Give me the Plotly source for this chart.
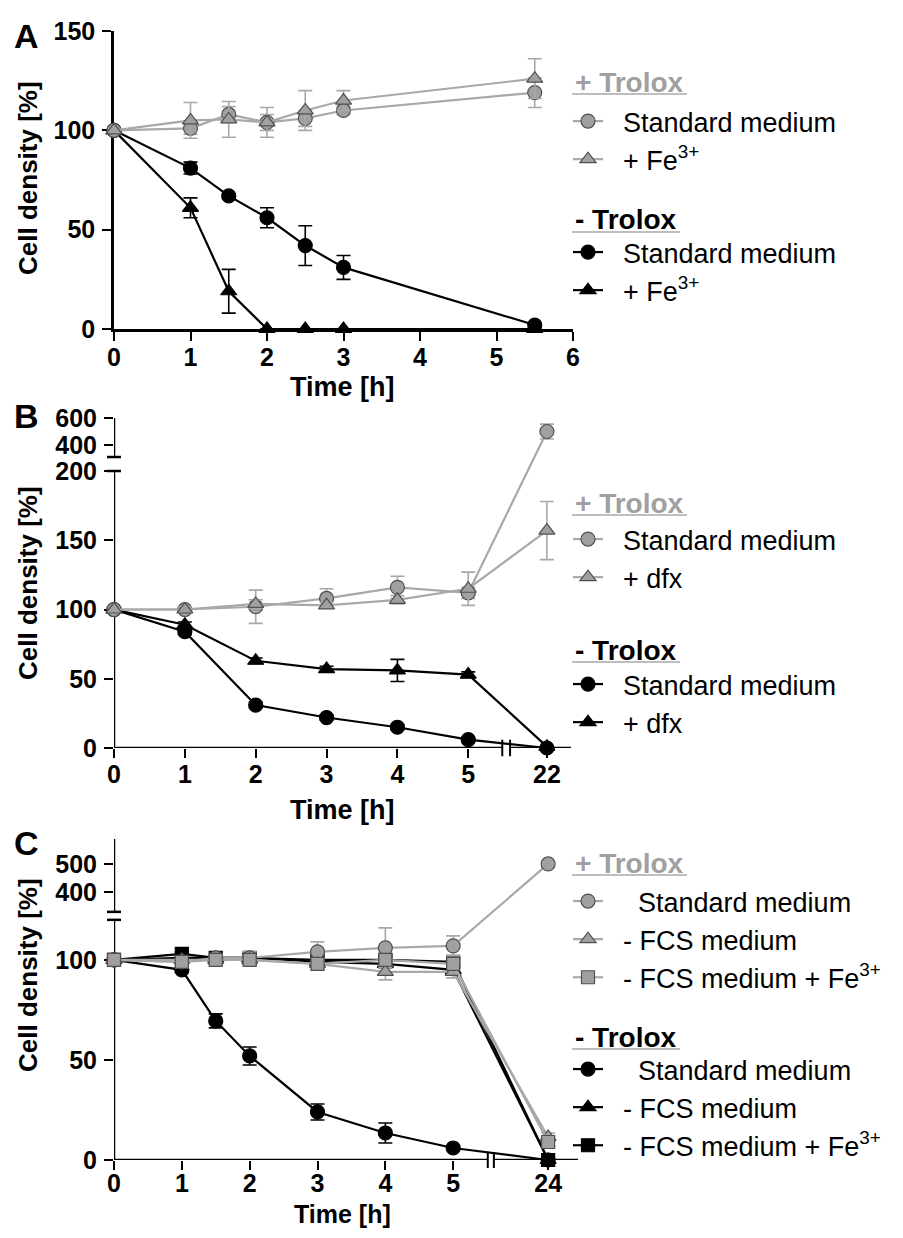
import plotly.graph_objects as go

# page body has an 8px margin: figure is placed at (8, 8) in the window
OX, OY = 8, 8
W, H = 887, 1222
FONT = "Liberation Sans, Arial, Helvetica, sans-serif"
GRAY_LINE = "#A8A8A8"
GRAY_FILL = "#A0A0A0"
GRAY_EDGE = "#505050"
BLACK = "#000000"

# ---------------- data ----------------
# Panel A
A_time = [0, 1, 1.5, 2, 2.5, 3, 5.5]
A_plus_std = [100, 101, 108, 104, 106, 110, 119]
A_plus_std_err = [0, 3, 4, 4, 4, 2, 7.5]
A_plus_fe = [100, 105, 105.5, 104, 110, 115, 126]
A_plus_fe_err = [0, 9, 9, 7.5, 10, 5, 10]
A_minus_std = [100, 81, 67, 56, 42, 31, 2]
A_minus_std_err = [0, 3, 1, 5, 10, 6, 1]
A_minus_fe = [100, 61, 19, 0, 0, 0, 0]
A_minus_fe_err = [0, 5, 11, 0, 0, 0, 0]
A_xticks = [0, 1, 2, 3, 4, 5, 6]
A_yticks = [0, 50, 100, 150]

# Panel B
B_time = [0, 1, 2, 3, 4, 5, 22]
B_plus_std = [100, 100, 102, 108, 116, 112, 500]
B_plus_std_err = [0, 2, 12, 7, 8, 4, 55]
B_plus_dfx = [100, 100, 104, 103, 107, 115, 157]
B_plus_dfx_err = [0, 2, 3, 2, 3, 12, 21]
B_minus_std = [100, 84, 31, 22, 15, 6, 0]
B_minus_std_err = [0, 2, 2, 2, 2, 1, 0]
B_minus_dfx = [100, 89, 63, 57, 56, 53, 1]
B_minus_dfx_err = [0, 2, 2, 2, 8, 2, 0]
B_xticks = [0, 1, 2, 3, 4, 5, 22]
B_yticks = [0, 50, 100, 150, 200, 400, 600]

# Panel C
C_time = [0, 1, 1.5, 2, 3, 4, 5, 24]
C_plus_std = [100, 99, 101, 101, 104, 106, 107, 500]
C_plus_std_err = [0, 2, 2, 3, 5, 10, 5, 0]
C_plus_fcs = [100, 100, 100, 100, 98, 94, 94, 11.5]
C_plus_fcs_err = [0, 2, 2, 2, 3, 4, 3, 2]
C_plus_fcsfe = [100, 99, 100, 100, 98, 100, 98, 9]
C_plus_fcsfe_err = [0, 2, 2, 2, 2, 3, 3, 2]
C_minus_std = [100, 95, 69.5, 52, 24, 13.5, 6, 0]
C_minus_std_err = [0, 1, 3.5, 4.5, 4, 5, 1, 0]
C_minus_fcs = [100, 101, 101, 101, 99, 98, 95, 0]
C_minus_fcs_err = [0, 1, 1, 2, 2, 2, 2, 0]
C_minus_fcsfe = [100, 103, 101, 101, 100, 100, 99, 0]
C_minus_fcsfe_err = [0, 1, 1, 2, 2, 2, 2, 0]
C_xticks = [0, 1, 2, 3, 4, 5, 24]
C_yticks = [0, 50, 100, 400, 500]

# ---------------- axis-break scales ----------------
B_LOW_TOP, B_GAP, B_UP_LO, B_UP_HI, B_UP_RATIO = 200, 10.1, 311, 600, 0.0975
C_LOW_TOP, C_GAP, C_UP_LO, C_UP_HI, C_UP_RATIO = 120, 4.0, 329, 589, 0.14
B_XLAST, B_XMAX, B_XBREAK = 6.11, 6.45, (5.48, 5.59)
C_XLAST, C_XMAX, C_XBREAK = 6.40, 6.84, (5.51, 5.60)


def ybreak(v, low_top, gap, up_lo, ratio):
    if v <= low_top:
        return v
    return low_top + gap + (v - up_lo) * ratio


def yB(v):
    return ybreak(v, B_LOW_TOP, B_GAP, B_UP_LO, B_UP_RATIO)


def yC(v):
    return ybreak(v, C_LOW_TOP, C_GAP, C_UP_LO, C_UP_RATIO)


def xcomp(t, last):
    return t if t <= 5 else last


def px(x):
    return (x - OX) / W


def py(y):
    return 1 - (y - OY) / H


def dom_x(l, r):
    return [px(l), px(r)]


def dom_y(top, bottom):
    return [py(bottom), py(top)]


fig = go.Figure()


def add_series(xs, ys, errs, xa, ya, name, legend, symbol, gray, yf=None, xf=None):
    yf = yf or (lambda v: v)
    xf = xf or (lambda t: t)
    yy = [yf(v) for v in ys]
    up = [yf(v + e) - yf(v) for v, e in zip(ys, errs)]
    dn = [yf(v) - yf(v - e) for v, e in zip(ys, errs)]
    col_line = GRAY_LINE if gray else BLACK
    fig.add_trace(go.Scatter(
        x=[xf(t) for t in xs], y=yy, xaxis=xa, yaxis=ya, name=name, legend=legend,
        mode="lines+markers", cliponaxis=False,
        line=dict(color=col_line, width=2.2),
        marker=dict(symbol=symbol, size=14 if symbol != "square" else 13,
                    color=GRAY_FILL if gray else BLACK,
                    line=dict(color=GRAY_EDGE if gray else BLACK, width=1.2)),
        error_y=dict(type="data", symmetric=False, array=up, arrayminus=dn,
                     color=GRAY_LINE if gray else BLACK, thickness=1.6, width=7),
        hoverinfo="x+y+name",
    ))


S2 = "\u00a0\u00a0"
S4 = "\u00a0\u00a0\u00a0\u00a0"
FE = S2 + "+ Fe<sup>3+</sup>"
SM = S2 + "Standard medium"

# Panel A (black first so gray sits on top)
add_series(A_time, A_minus_std, A_minus_std_err, "x", "y", SM, "legend2", "circle", False)
add_series(A_time, A_minus_fe, A_minus_fe_err, "x", "y", FE, "legend2", "triangle-up", False)
add_series(A_time, A_plus_std, A_plus_std_err, "x", "y", SM, "legend", "circle", True)
add_series(A_time, A_plus_fe, A_plus_fe_err, "x", "y", FE, "legend", "triangle-up", True)

# Panel B
fxB = lambda t: xcomp(t, B_XLAST)
add_series(B_time, B_minus_std, B_minus_std_err, "x2", "y2", SM, "legend4", "circle", False, yB, fxB)
add_series(B_time, B_minus_dfx, B_minus_dfx_err, "x2", "y2", S2 + "+ dfx", "legend4", "triangle-up", False, yB, fxB)
add_series(B_time, B_plus_std, B_plus_std_err, "x2", "y2", SM, "legend3", "circle", True, yB, fxB)
add_series(B_time, B_plus_dfx, B_plus_dfx_err, "x2", "y2", S2 + "+ dfx", "legend3", "triangle-up", True, yB, fxB)

# Panel C
fxC = lambda t: xcomp(t, C_XLAST)
SMC = S4 + "Standard medium"
FCS = S2 + "- FCS medium"
FCSFE = S2 + "- FCS medium + Fe<sup>3+</sup>"
add_series(C_time, C_minus_std, C_minus_std_err, "x3", "y3", SMC, "legend6", "circle", False, yC, fxC)
add_series(C_time, C_minus_fcs, C_minus_fcs_err, "x3", "y3", FCS, "legend6", "triangle-up", False, yC, fxC)
add_series(C_time, C_minus_fcsfe, C_minus_fcsfe_err, "x3", "y3", FCSFE, "legend6", "square", False, yC, fxC)
add_series(C_time, C_plus_std, C_plus_std_err, "x3", "y3", SMC, "legend5", "circle", True, yC, fxC)
add_series(C_time, C_plus_fcs, C_plus_fcs_err, "x3", "y3", FCS, "legend5", "triangle-up", True, yC, fxC)
add_series(C_time, C_plus_fcsfe, C_plus_fcsfe_err, "x3", "y3", FCSFE, "legend5", "square", True, yC, fxC)

tickfont = dict(family=FONT, size=25, color="black", weight="bold")
common = dict(ticks="outside", ticklen=9, tickwidth=2.2, tickcolor="black",
              showgrid=False, zeroline=False, tickfont=tickfont, layer="below traces",
              fixedrange=True, automargin=False)
xcommon = dict(common, ticklabelstandoff=-5)
xcommonC = dict(common, ticklabelstandoff=-8)
ycommon = dict(common, ticklabelstandoff=2)

layout = dict(
    width=W, height=H, margin=dict(l=0, r=0, t=0, b=0, pad=0, autoexpand=False),
    paper_bgcolor="white", plot_bgcolor="white",
    font=dict(family=FONT, color="black"),
    xaxis=dict(domain=dom_x(114, 573), range=[0, 6], anchor="y", tickvals=A_xticks,
               showline=True, linewidth=2.5, linecolor="black", **xcommon),
    yaxis=dict(domain=dom_y(31, 329), range=[0, 150], anchor="x", tickvals=A_yticks,
               showline=True, linewidth=2.5, linecolor="black", **ycommon),
    xaxis2=dict(domain=dom_x(114, 571), range=[0, B_XMAX], anchor="y2",
                tickvals=[fxB(t) for t in B_xticks], ticktext=[str(t) for t in B_xticks],
                showline=False, **xcommon),
    yaxis2=dict(domain=dom_y(418, 748), range=[0, yB(B_UP_HI)], anchor="x2",
                tickvals=[yB(v) for v in B_yticks], ticktext=[str(v) for v in B_yticks],
                showline=False, **ycommon),
    xaxis3=dict(domain=dom_x(114, 578), range=[0, C_XMAX], anchor="y3",
                tickvals=[fxC(t) for t in C_xticks], ticktext=[str(t) for t in C_xticks],
                showline=False, **xcommonC),
    yaxis3=dict(domain=dom_y(839, 1160), range=[0, yC(C_UP_HI)], anchor="x3",
                tickvals=[yC(v) for v in C_yticks], ticktext=[str(v) for v in C_yticks],
                showline=False, **ycommon),
)

legfont = dict(family=FONT, size=27, color="black")
LEG_X = px(568)
leg_tops = {"legend": 122, "legend2": 253, "legend3": 540, "legend4": 685,
            "legend5": 902, "legend6": 1070}
for key, c in leg_tops.items():
    layout[key] = dict(x=LEG_X, y=py(c - 25), xanchor="left", yanchor="top",
                       font=legfont, bgcolor="rgba(0,0,0,0)", borderwidth=0,
                       tracegroupgap=0, traceorder="normal",
                       itemclick=False, itemdoubleclick=False)

fig.update_layout(**layout)

shapes = []
# Broken axis lines for panels B and C
for xa, ya, yf, low_top, up_lo, up_hi, xbrk, xmax, dwidth in [
    ("x2", "y2", yB, B_LOW_TOP, B_UP_LO, B_UP_HI, B_XBREAK, B_XMAX, 457),
    ("x3", "y3", yC, C_LOW_TOP, C_UP_LO, C_UP_HI, C_XBREAK, C_XMAX, 464),
]:
    lw = dict(color="black", width=2.5)
    shapes.append(dict(type="line", xref=xa, yref=ya, x0=0, x1=0, y0=0, y1=yf(low_top), line=lw, layer="below"))
    shapes.append(dict(type="line", xref=xa, yref=ya, x0=0, x1=0, y0=yf(up_lo), y1=yf(up_hi), line=lw, layer="below"))
    for yv in (yf(low_top), yf(up_lo)):
        shapes.append(dict(type="line", xref=xa + " domain", yref=ya, x0=-7 / dwidth, x1=7 / dwidth,
                           y0=yv, y1=yv, line=lw, layer="below"))
    shapes.append(dict(type="line", xref=xa, yref=ya, x0=0, x1=xbrk[0], y0=0, y1=0, line=lw, layer="below"))
    shapes.append(dict(type="line", xref=xa, yref=ya, x0=xbrk[1], x1=xmax, y0=0, y1=0, line=lw, layer="below"))
    for xv in xbrk:
        shapes.append(dict(type="line", xref=xa, yref=ya + " domain", x0=xv, x1=xv,
                           y0=-0.025, y1=0.025, line=dict(color="black", width=2), layer="below"))

heads = [("+ Trolox", 82, GRAY_FILL, 687), ("- Trolox", 220, "black", 680),
         ("+ Trolox", 503, GRAY_FILL, 687), ("- Trolox", 650, "black", 680),
         ("+ Trolox", 863, GRAY_FILL, 687), ("- Trolox", 1037, "black", 680)]
annotations = []
for text, yc, col, xend in heads:
    annotations.append(dict(text="<b>%s</b>" % text, x=px(573), y=py(yc), xref="paper", yref="paper",
                            xanchor="left", yanchor="middle", showarrow=False,
                            font=dict(family=FONT, size=28, color=col)))
    shapes.append(dict(type="line", xref="paper", yref="paper", x0=px(572), x1=px(xend),
                       y0=py(yc + 12), y1=py(yc + 12),
                       line=dict(color="#A8A8A8", width=1.5)))

for letter, yc in [("A", 36), ("B", 416), ("C", 843)]:
    annotations.append(dict(text="<b>%s</b>" % letter, x=px(12), y=py(yc), xref="paper", yref="paper",
                            xanchor="left", yanchor="middle", showarrow=False,
                            font=dict(family=FONT, size=34, color="black")))

for yc in (178, 583, 975):
    annotations.append(dict(text="<b>Cell density [%]</b>", x=px(28), y=py(yc), xref="paper", yref="paper",
                            xanchor="center", yanchor="middle", textangle=-90, showarrow=False,
                            font=dict(family=FONT, size=26, color="black")))
for yc, fs in ((387, 27), (810, 27), (1214, 25)):
    annotations.append(dict(text="<b>Time [h]</b>", x=px(342), y=py(yc), xref="paper", yref="paper",
                            xanchor="center", yanchor="middle", showarrow=False,
                            font=dict(family=FONT, size=fs, color="black")))

fig.update_layout(shapes=shapes, annotations=annotations, hovermode="closest")
fig.write_html("out.html")
